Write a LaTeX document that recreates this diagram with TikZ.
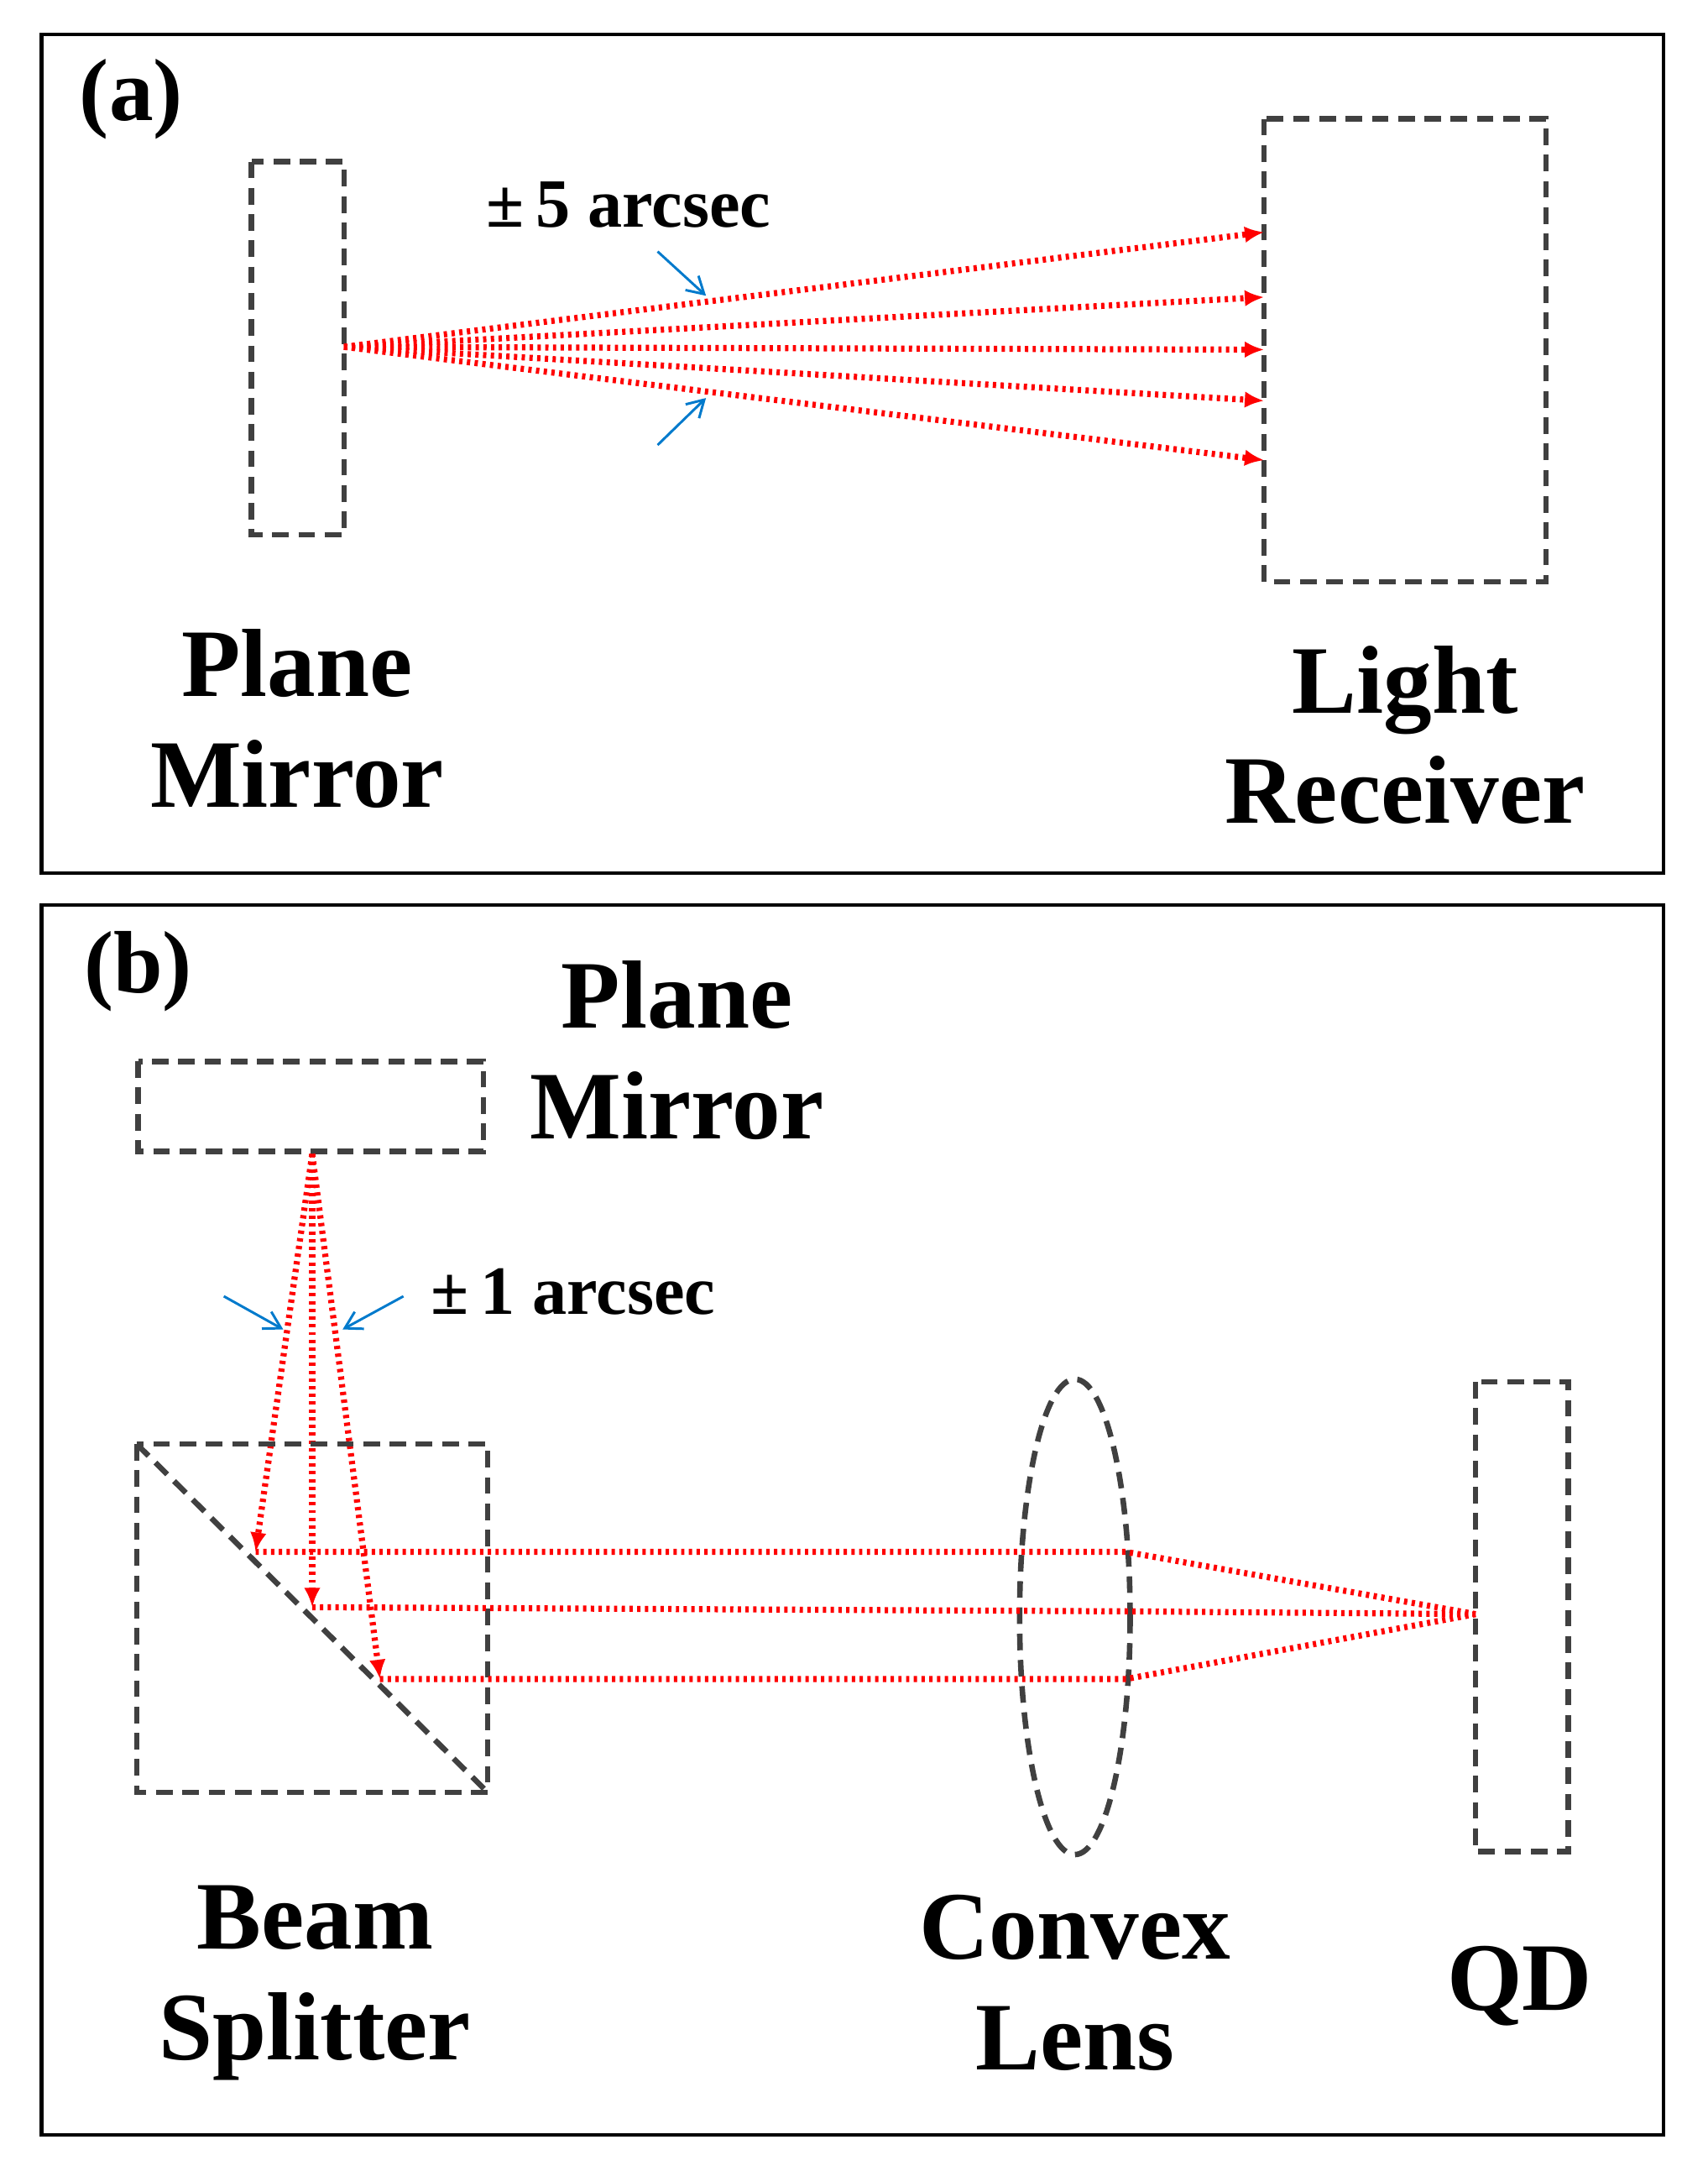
\documentclass[tikz,border=0pt]{standalone}
\usepackage{fontspec}
\setmainfont{Liberation Serif}
\usetikzlibrary{arrows.meta}
\begin{document}
\begin{tikzpicture}[x=0.5pt,y=-0.5pt,
 box/.style={draw=black!75,line width=2pt,dash pattern=on 6pt off 3.5pt},
 frame/.style={draw=black,line width=1.3pt},
 ray/.style={draw=red,line width=2.2pt,dash pattern=on 1.2pt off 1.6pt},
 rayarr/.style={ray,-{Latex[length=7pt,width=6pt]}},
 blue/.style={draw=blue!40!cyan!80!black,line width=0.9pt,-{Straight Barb[length=6pt,width=7pt]}},
 lab/.style={font=\fontsize{35}{40}\selectfont\bfseries,align=center},
 small/.style={font=\fontsize{25}{28}\selectfont\bfseries}]
\useasboundingbox (0,0) rectangle (1236,1571);
\draw[frame] (30,25) rectangle (1204,632);
\draw[frame] (30,655) rectangle (1204,1545);
% (a)
\node[lab,font=\fontsize{32}{36}\selectfont\bfseries] (la) at (95,72) {(a)};
\draw[box] (182,117) rectangle (249,387);
\draw[box] (915,86) rectangle (1119,421);
\coordinate (s) at (249,251);
\foreach \y/\n in {168/1,215/2,253/3,290/4,333/5}{\coordinate (t\n) at (915,\y); \draw[rayarr] (s) -- (t\n);}
\node[small] (l5) at (455,148) {±\,5 arcsec};
\coordinate (b1) at (476,182); \coordinate (b2) at (511,214);
\coordinate (b3) at (476,322); \coordinate (b4) at (511,288);
\draw[blue] (b1) -- (b2); \draw[blue] (b3) -- (b4);
\node[lab] (pm) at (215,520) {Plane\\Mirror};
\node[lab] (lr) at (1017,532) {Light\\Receiver};
% (b)
\node[lab,font=\fontsize{32}{36}\selectfont\bfseries] (lb) at (100,703) {(b)};
\draw[box] (100,768) rectangle (350,833);
\node[lab] (pm2) at (490,760) {Plane\\Mirror};
\coordinate (m) at (226,835);
\coordinate (p1) at (185,1123); \coordinate (p2) at (226,1163); \coordinate (p3) at (275,1215);
\foreach \p in {p1,p2,p3} \draw[rayarr] (m) -- (\p);
\coordinate (c1) at (162,938); \coordinate (c2) at (205,962);
\coordinate (c3) at (292,938); \coordinate (c4) at (248,962);
\draw[blue] (c1) -- (c2); \draw[blue] (c3) -- (c4);
\node[small] (l1) at (415,935) {±\,1 arcsec};
\draw[box] (99,1045) rectangle (353,1297);
\draw[box] (99,1045) -- (353,1297);
\draw[box] (778,1170) ellipse [x radius=40, y radius=172];
\draw[box] (1068,1000) rectangle (1135,1340);
\coordinate (q1) at (815,1123); \coordinate (q2) at (815,1166); \coordinate (q3) at (815,1215);
\coordinate (f) at (1068,1168);
\draw[ray] (p1) -- (q1) -- (f);
\draw[ray] (p2) -- (q2) -- (f);
\draw[ray] (p3) -- (q3) -- (f);
\node[lab] (bs) at (228,1435) {Beam\\Splitter};
\node[lab] (cl) at (778,1435) {Convex\\Lens};
\node[lab] (qd) at (1100,1437) {QD};
\end{tikzpicture}
\end{document}
